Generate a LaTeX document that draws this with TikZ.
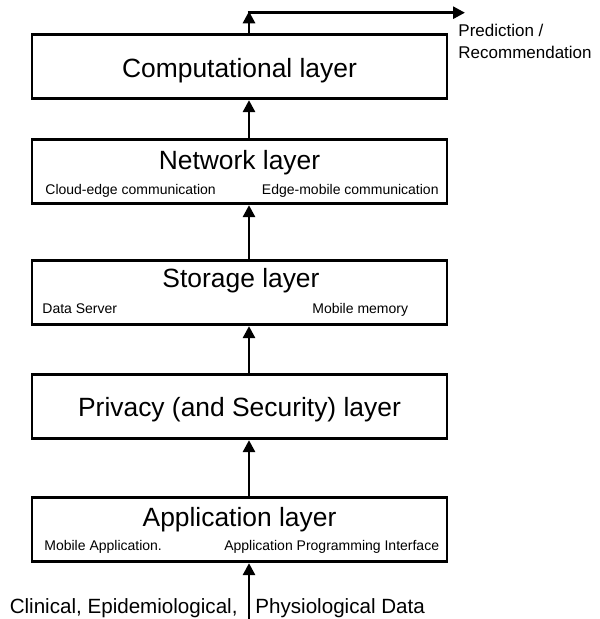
\documentclass[tikz,border=0pt]{standalone}
\usepackage{fontspec}
\setmainfont{Liberation Sans}
\usetikzlibrary{arrows.meta, positioning}
\tikzstyle{layer}=[draw, line width=1.35pt, minimum width=207.5pt, minimum height=32.3pt, inner sep=0pt]
\tikzstyle{title}=[font=\fontsize{13.2}{15}\selectfont, anchor=base, inner sep=0pt]
\tikzstyle{detail}=[font=\fontsize{7}{8.4}\selectfont, inner sep=0pt]
\tikzstyle{source}=[font=\fontsize{10.3}{12}\selectfont, inner sep=0pt]
\tikzstyle{flow}=[line width=1.4pt, -{Triangle[length=6pt, width=6pt]}]

\begin{document}
\begin{tikzpicture}[x=0.5pt, y=-0.5pt]
    \useasboundingbox (0, 0) rectangle (599, 619);

    \node (comp)[layer] at (239.5, 66.5) {};
    \node (net)[layer] at (239.5, 171.5) {};
    \node (store)[layer] at (239.5, 292.5) {};
    \node (priv)[layer] at (239.5, 406.5) {};
    \node (app)[layer] at (239.5, 529.5) {};

    \node (tcomp)[title] at (239.5, 78) {Computational layer};
    \node (tnet)[title] at (239.5, 170) {Network layer};
    \node (tstore)[title] at (241, 288) {Storage layer};
    \node (tpriv)[title] at (239.5, 416.7) {Privacy (and Security) layer};
    \node (tapp)[title] at (239.5, 526.7) {Application layer};

    \node (cloud)[detail, anchor=base west] at (45, 195) {Cloud-edge communication};
    \node (edge)[detail, anchor=base east] at (439, 195) {Edge-mobile communication};
    \node (server)[detail, anchor=base west] at (42, 314) {Data Server};
    \node (memory)[detail, anchor=base west] at (312, 314) {Mobile memory};
    \node (mobapp)[detail, anchor=base west] at (44, 550.7) {Mobile Application.};
    \node (api)[detail, anchor=base east] at (439.5, 550.7) {Application Programming Interface};

    \node (srcl)[source, anchor=base east] at (238, 613) {Clinical, Epidemiological,};
    \node (srcr)[source, anchor=base west] at (255, 613) {Physiological Data};
    \node (pred)[anchor=north west, inner sep=0pt, align=left,
        font=\fontsize{8.5}{11.2}\selectfont] at (458, 23.5) {Prediction /\\Recommendation};

    \coordinate (src) at (249, 619);
    \coordinate (corner) at (249, 12.7);
    \coordinate (out) at (465, 12.7);

    \draw[flow] (src) -- (app.south -| src);
    \draw[flow] (app.north -| src) -- (priv.south -| src);
    \draw[flow] (priv.north -| src) -- (store.south -| src);
    \draw[flow] (store.north -| src) -- (net.south -| src);
    \draw[flow] (net.north -| src) -- (comp.south -| src);
    \draw[flow] (comp.north -| src) -- (249, 11.3);
    \draw[flow] ([xshift=-0.7pt]corner) -- (out);

\end{tikzpicture}
\end{document}
